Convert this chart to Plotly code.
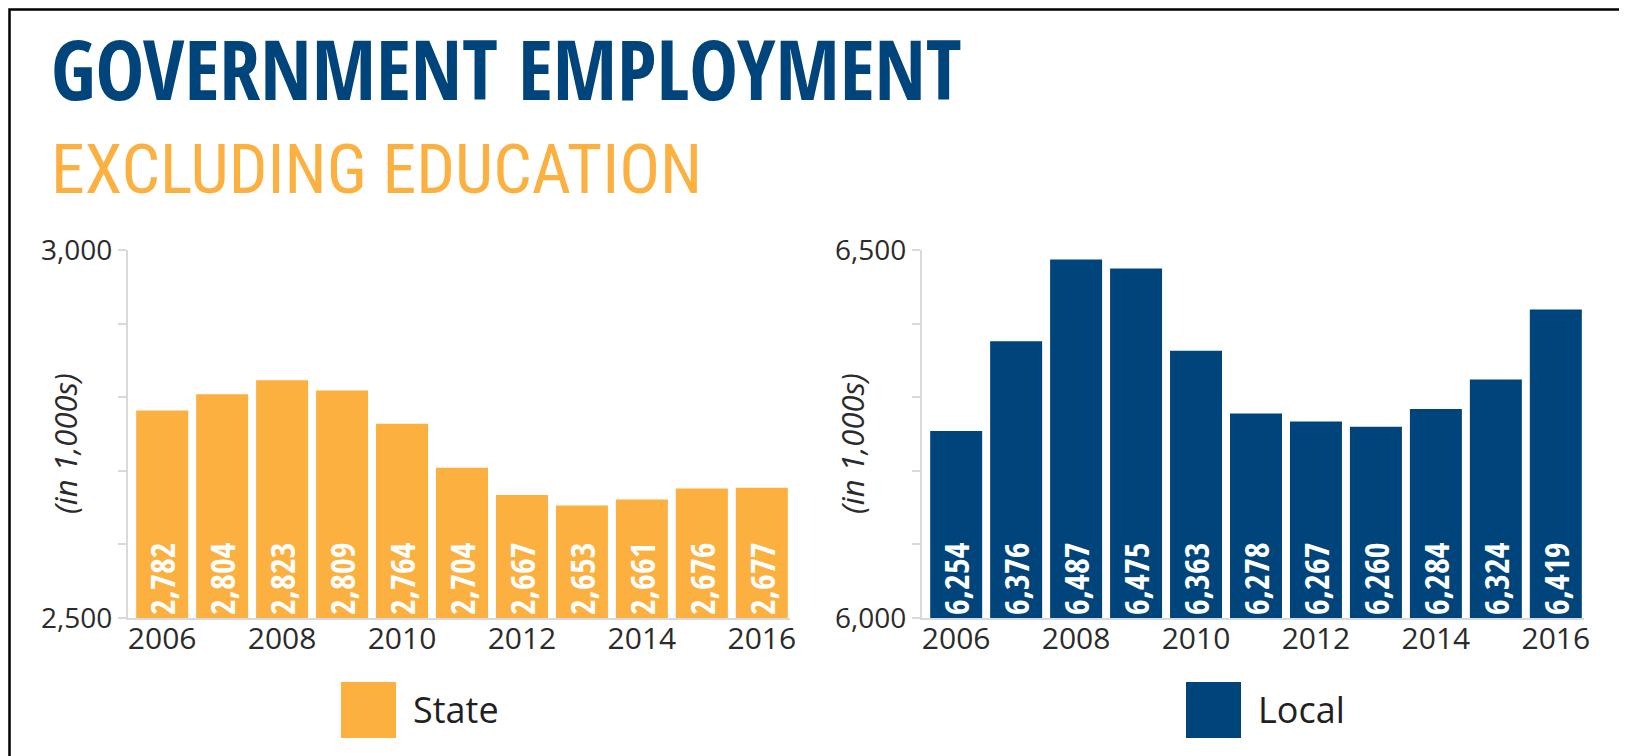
import plotly.graph_objects as go

# Data
years = [2006, 2007, 2008, 2009, 2010, 2011, 2012, 2013, 2014, 2015, 2016]
state_jobs = [2782, 2804, 2823, 2809, 2764, 2704, 2667, 2653, 2661, 2676, 2677]
local_jobs = [6254, 6376, 6487, 6475, 6363, 6278, 6267, 6260, 6284, 6324, 6419]
year_ticks = [2006, 2008, 2010, 2012, 2014, 2016]
state_ticks = [2500, 2600, 2700, 2800, 2900, 3000]
state_ticktext = ["2,500", "", "", "", "", "3,000"]
local_ticks = [6000, 6100, 6200, 6300, 6400, 6500]
local_ticktext = ["6,000", "", "", "", "", "6,500"]
state_floor, local_floor = 2500, 6000

W, H = 1627, 756
PAGE_OFF = 8  # body margin of the html page
ORANGE = "#FBB040"
NAVY = "#00447C"
TEXT = "#2b2b2b"
AXIS = "#d9d9d9"
COND = "Open Sans Condensed, Roboto Condensed, DejaVu Sans Condensed, sans-serif"
COND_LIGHT = "Roboto Condensed, DejaVu Sans Condensed, sans-serif"
TICK_FONT = "Open Sans, sans-serif"


# screen pixel -> paper fraction
def px_x(v):
    return (v - PAGE_OFF) / W


def px_y(v):
    return 1 - (v - PAGE_OFF) / H


fig = go.Figure()

# bars start at the axis floor so the inside labels sit at the visible base
fig.add_trace(go.Bar(x=years, y=[v - state_floor for v in state_jobs], base=state_floor, name="State",
                     marker=dict(color=ORANGE, line=dict(width=0)),
                     width=0.867,
                     text=[f"{v:,}" for v in state_jobs],
                     textposition="inside", insidetextanchor="start", textangle=-90,
                     textfont=dict(family=COND, size=35, color="white", weight="bold"),
                     xaxis="x", yaxis="y", showlegend=False, hoverinfo="skip"))

fig.add_trace(go.Bar(x=years, y=[v - local_floor for v in local_jobs], base=local_floor, name="Local",
                     marker=dict(color=NAVY, line=dict(width=0)),
                     width=0.867,
                     text=[f"{v:,}" for v in local_jobs],
                     textposition="inside", insidetextanchor="start", textangle=-90,
                     textfont=dict(family=COND, size=35, color="white", weight="bold"),
                     xaxis="x2", yaxis="y2", showlegend=False, hoverinfo="skip"))

xcommon = dict(range=[2005.43, 2016.47], tickvals=year_ticks, showgrid=False, zeroline=False,
               showline=True, linecolor=AXIS, linewidth=2, ticks="", automargin=False,
               ticklabelstandoff=-7,
               tickfont=dict(family=TICK_FONT, size=30, color=TEXT))
ycommon = dict(showgrid=False, zeroline=False, showline=True, linecolor=AXIS, linewidth=2,
               ticks="outside", ticklen=8, tickcolor=AXIS, tickwidth=2, automargin=False,
               tickfont=dict(family=TICK_FONT, size=28, color=TEXT))

fig.update_layout(
    width=W, height=H,
    margin=dict(l=0, r=0, t=0, b=0),
    paper_bgcolor="white", plot_bgcolor="white",
    showlegend=False,
    xaxis=dict(domain=[px_x(128), px_x(790)], anchor="y", **xcommon),
    yaxis=dict(domain=[px_y(618), px_y(250)], anchor="x", range=[2500, 3000],
               tickvals=state_ticks, ticktext=state_ticktext, **ycommon),
    xaxis2=dict(domain=[px_x(922), px_x(1584)], anchor="y2", **xcommon),
    yaxis2=dict(domain=[px_y(618), px_y(250)], anchor="x2", range=[6000, 6500],
                tickvals=local_ticks, ticktext=local_ticktext, **ycommon),
)

# Title block
fig.add_annotation(text="GOVERNMENT EMPLOYMENT", xref="paper", yref="paper",
                   x=px_x(49), y=px_y(68), xanchor="left", yanchor="middle", showarrow=False,
                   font=dict(family=COND, size=82, color=NAVY, weight="bold"))
fig.add_annotation(text="EXCLUDING EDUCATION", xref="paper", yref="paper",
                   x=px_x(49), y=px_y(170), xanchor="left", yanchor="middle", showarrow=False,
                   font=dict(family=COND_LIGHT, size=68, color=ORANGE))

# Axis titles
for xc in [65, 852]:
    fig.add_annotation(text="<i>(in 1,000s)</i>", xref="paper", yref="paper",
                       x=px_x(xc), y=px_y(444), xanchor="center", yanchor="middle",
                       textangle=-90, showarrow=False,
                       font=dict(family=TICK_FONT, size=31, color=TEXT))

# Legend keys
for x0, color, label in [(341, ORANGE, "State"), (1186, NAVY, "Local")]:
    fig.add_shape(type="rect", xref="paper", yref="paper",
                  x0=px_x(x0), x1=px_x(x0 + 55), y0=px_y(738), y1=px_y(682),
                  fillcolor=color, line_width=0)
    fig.add_annotation(text=label, xref="paper", yref="paper",
                       x=px_x(x0 + 70), y=px_y(709), xanchor="left", yanchor="middle",
                       showarrow=False, font=dict(family=TICK_FONT, size=36, color="#231f20"))

# Frame
fig.add_shape(type="rect", xref="paper", yref="paper",
              x0=px_x(9.5), x1=px_x(1624), y0=-0.02, y1=px_y(9.5),
              line=dict(color="black", width=2.5))

fig.write_html("out.html")
